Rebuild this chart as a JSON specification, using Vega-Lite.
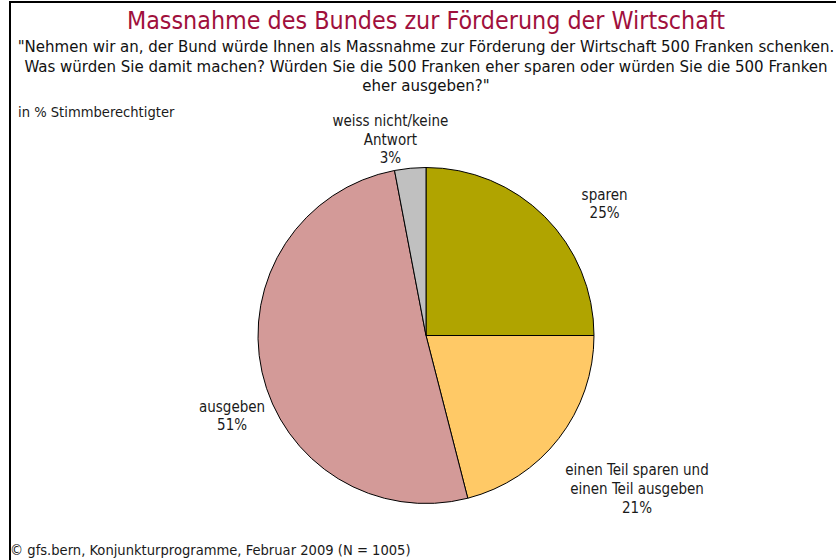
{
  "$schema": "https://vega.github.io/schema/vega-lite/v6.json",
  "width": 832,
  "height": 667,
  "autosize": {"type": "none"},
  "padding": {"left": 10, "top": 2, "right": -6, "bottom": -109},
  "background": "white",
  "config": {
    "view": {"stroke": "black", "strokeWidth": 2},
    "text": {"font": "DejaVu Sans Condensed", "fontSize": 15, "color": "#1a1a1a"}
  },
  "title": {
    "text": "Massnahme des Bundes zur Förderung der Wirtschaft",
    "subtitle": [
      "\"Nehmen wir an, der Bund würde Ihnen als Massnahme zur Förderung der Wirtschaft 500 Franken schenken.",
      "Was würden Sie damit machen? Würden Sie die 500 Franken eher sparen oder würden Sie die 500 Franken",
      "eher ausgeben?\""
    ],
    "anchor": "middle",
    "offset": -93,
    "font": "DejaVu Sans Condensed",
    "fontSize": 24.8,
    "fontWeight": "normal",
    "color": "#A0103C",
    "subtitleFont": "DejaVu Sans Condensed",
    "subtitleFontSize": 16.7,
    "subtitleColor": "#111111",
    "subtitleLineHeight": 19.5,
    "subtitlePadding": 6
  },
  "data": {
    "values": [
      {"kategorie": "sparen", "anteil": 25, "ord": 1, "label": "sparen\n25%"},
      {"kategorie": "einen Teil sparen und einen Teil ausgeben", "anteil": 21, "ord": 2, "label": "einen Teil sparen und\neinen Teil ausgeben\n21%"},
      {"kategorie": "ausgeben", "anteil": 51, "ord": 3, "label": "ausgeben\n51%"},
      {"kategorie": "weiss nicht/keine Antwort", "anteil": 3, "ord": 4, "label": "weiss nicht/keine\nAntwort\n3%"}
    ]
  },
  "encoding": {
    "theta": {"field": "anteil", "type": "quantitative", "stack": true},
    "order": {"field": "ord", "type": "quantitative"}
  },
  "layer": [
    {
      "mark": {"type": "arc", "outerRadius": 168, "stroke": "#000000", "strokeWidth": 1},
      "encoding": {
        "color": {
          "field": "kategorie",
          "type": "nominal",
          "scale": {
            "domain": ["sparen", "einen Teil sparen und einen Teil ausgeben", "ausgeben", "weiss nicht/keine Antwort"],
            "range": ["#B0A400", "#FFC966", "#D39A98", "#C0C0C0"]
          },
          "legend": null
        }
      }
    },
    {
      "mark": {"type": "text", "radius": 220, "dx": 23, "dy": 15, "align": "center", "baseline": "middle", "lineBreak": "\n", "lineHeight": 18.5},
      "encoding": {"text": {"condition": {"test": "datum.kategorie === 'sparen'", "field": "label", "type": "nominal"}, "value": ""}}
    },
    {
      "mark": {"type": "text", "radius": 262, "dx": 4, "dy": -26, "align": "center", "baseline": "middle", "lineBreak": "\n", "lineHeight": 19},
      "encoding": {"text": {"condition": {"test": "datum.ord === 2", "field": "label", "type": "nominal"}, "value": ""}}
    },
    {
      "mark": {"type": "text", "radius": 211, "dx": 12, "dy": 25, "align": "center", "baseline": "middle", "lineBreak": "\n", "lineHeight": 18.5},
      "encoding": {"text": {"condition": {"test": "datum.ord === 3", "field": "label", "type": "nominal"}, "value": ""}}
    },
    {
      "mark": {"type": "text", "radius": 198, "dx": -17, "dy": -17, "align": "center", "baseline": "middle", "lineBreak": "\n", "lineHeight": 18.5},
      "encoding": {"text": {"condition": {"test": "datum.ord === 4", "field": "label", "type": "nominal"}, "value": ""}}
    },
    {
      "data": {"values": [{"hinweis": "in % Stimmberechtigter"}]},
      "mark": {"type": "text", "align": "left", "baseline": "middle", "fontSize": 14.6},
      "encoding": {
        "theta": null,
        "order": null,
        "text": {"field": "hinweis", "type": "nominal"},
        "x": {"value": 8},
        "y": {"value": 111}
      }
    },
    {
      "data": {"values": [{"quelle": "© gfs.bern, Konjunkturprogramme, Februar 2009 (N = 1005)"}]},
      "mark": {"type": "text", "align": "left", "baseline": "middle", "fontSize": 14.6},
      "encoding": {
        "theta": null,
        "order": null,
        "text": {"field": "quelle", "type": "nominal"},
        "x": {"value": 0},
        "y": {"value": 549}
      }
    }
  ]
}
